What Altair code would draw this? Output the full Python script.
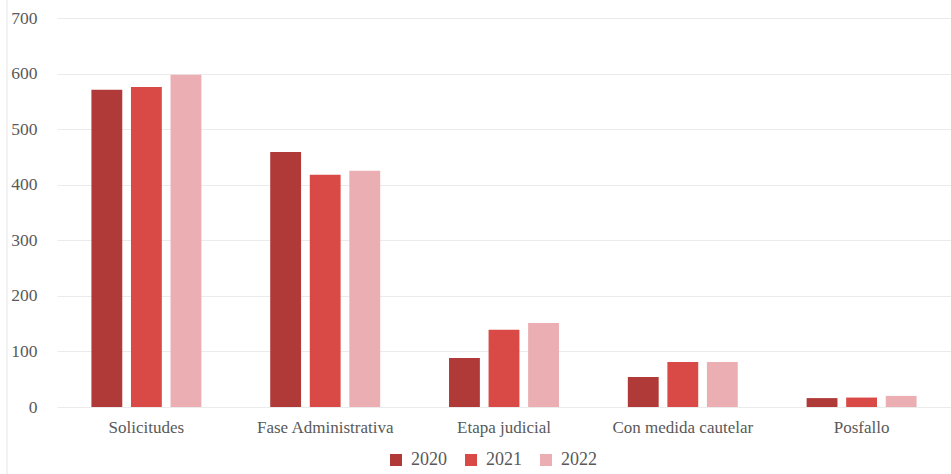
import altair as alt
import pandas as pd

categories = ["Solicitudes", "Fase Administrativa", "Etapa judicial", "Con medida cautelar", "Posfallo"]
years = ["2020", "2021", "2022"]
v2020 = [571, 459, 88, 54, 16]
v2021 = [576, 418, 139, 81, 17]
v2022 = [598, 425, 151, 81, 20]
colors = ["#B03A37", "#D94A47", "#EBAEB3"]

rows = []
for i, c in enumerate(categories):
    for y, vals in zip(years, [v2020, v2021, v2022]):
        rows.append({"cat": c, "year": y, "value": vals[i]})
df = pd.DataFrame(rows)

FONT = "Liberation Serif"
TXT = "#595959"

bars = alt.Chart(df).mark_bar().encode(
    x=alt.X("cat:N", sort=categories, title=None,
            scale=alt.Scale(paddingInner=0.385, paddingOuter=0.1925),
            axis=alt.Axis(labelAngle=0, ticks=False, domain=False, labelFontSize=17,
                          labelFont=FONT, labelColor=TXT, labelPadding=12)),
    xOffset=alt.XOffset("year:N", sort=years, scale=alt.Scale(paddingInner=0.22)),
    y=alt.Y("value:Q", title=None,
            scale=alt.Scale(domain=[0, 700]),
            axis=alt.Axis(values=[0, 100, 200, 300, 400, 500, 600, 700], ticks=False, domain=False,
                          gridColor="#EBEBEB", labelFontSize=17.5, labelFont=FONT, labelColor=TXT,
                          labelPadding=20)),
    color=alt.Color("year:N", sort=years,
                    scale=alt.Scale(domain=years, range=colors),
                    legend=alt.Legend(title=None, orient="none", direction="horizontal",
                                      legendX=330, legendY=433, symbolType="square",
                                      symbolSize=144, symbolStrokeWidth=0, labelFontSize=18,
                                      labelFont=FONT, labelColor=TXT, labelOffset=6,
                                      columnPadding=15)),
)

border = alt.Chart(pd.DataFrame({"a": [0]})).mark_rule(color="#E6E6E6", strokeWidth=1).encode(
    x=alt.value(-50), y=alt.value(-18), y2=alt.value(456)
)

chart = alt.layer(border, bars).properties(
    width=894, height=389,
    autosize=alt.AutoSizeParams(type="none"),
    padding={"left": 57, "top": 18, "right": 0, "bottom": 67},
    background="white",
).configure_view(stroke=None)

chart.save("out.html", embed_options={"renderer": "svg", "actions": False})
